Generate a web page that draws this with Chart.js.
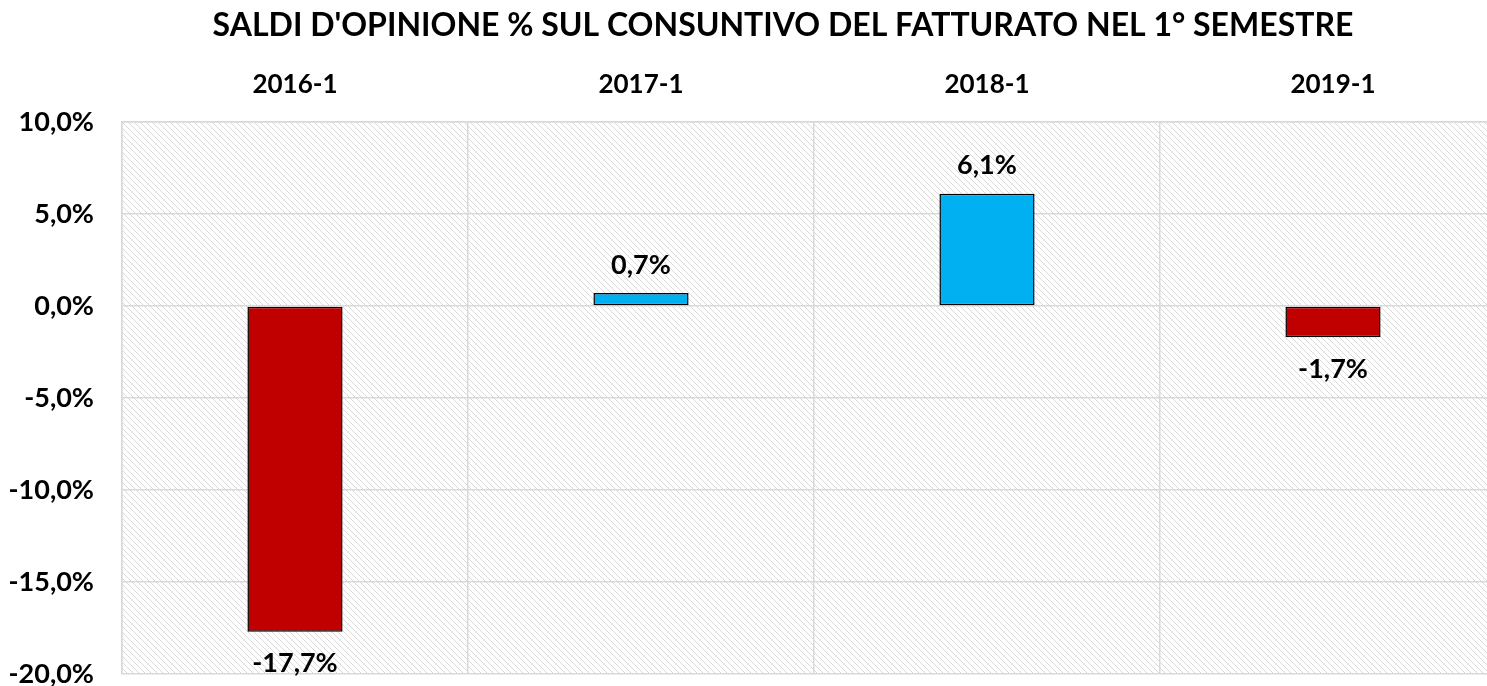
<!DOCTYPE html>
<html>
<head>
<meta charset="utf-8">
<script src="https://cdn.jsdelivr.net/npm/chart.js@4"></script>
<style>
  html, body { margin: 0; padding: 0; overflow: hidden; background: #fff; }
  #wrap { width: 1566px; height: 686px; }
</style>
</head>
<body>
<div id="wrap"><canvas id="chart" width="1566" height="686"></canvas></div>
<script>
var categories = ['2016-1', '2017-1', '2018-1', '2019-1'];
var saldi = [-17.7, 0.7, 6.1, -1.7];
var yTicks = [10, 5, 0, -5, -10, -15, -20];

var FONT = 'Lato';

function fmt(v) {
  return v.toFixed(1).replace('.', ',') + '%';
}

// hatched plot background, 1px diagonal dots like the excel pattern
function hatch(ctx) {
  var c = document.createElement('canvas');
  c.width = 6; c.height = 6;
  var p = c.getContext('2d');
  p.fillStyle = '#d9d9d9';
  for (var i = 0; i < 6; i++) p.fillRect(i, i, 1, 1);
  return ctx.createPattern(c, 'repeat');
}

var bgPlugin = {
  id: 'bg',
  beforeDraw: function (chart) {
    var a = chart.chartArea, ctx = chart.ctx;
    ctx.save();
    ctx.fillStyle = hatch(ctx);
    ctx.fillRect(a.left, a.top, a.right - a.left, a.bottom - a.top);
    ctx.restore();
  }
};

var labelPlugin = {
  id: 'valueLabels',
  afterDatasetsDraw: function (chart) {
    var ctx = chart.ctx;
    var meta = chart.getDatasetMeta(0);
    ctx.save();
    ctx.font = 'bold 27px ' + FONT;
    ctx.fillStyle = '#000';
    ctx.textAlign = 'center';
    ctx.textBaseline = 'middle';
    meta.data.forEach(function (bar, i) {
      var v = saldi[i];
      var y = v >= 0 ? bar.y - 28 : bar.y + 32;
      ctx.fillText(fmt(v), bar.x, y);
    });
    ctx.restore();
  }
};

var ctx = document.getElementById('chart').getContext('2d');
new Chart(ctx, {
  type: 'bar',
  data: {
    labels: categories,
    datasets: [{
      data: saldi,
      backgroundColor: saldi.map(v => v < 0 ? '#c00000' : '#00b0f0'),
      borderColor: '#000',
      borderWidth: 1.5,
      borderSkipped: false,
      categoryPercentage: 1,
      barPercentage: 0.275
    }]
  },
  options: {
    responsive: false,
    animation: false,
    layout: { padding: { left: 0, right: 0, top: 0, bottom: 12 } },
    plugins: {
      legend: { display: false },
      tooltip: { enabled: false },
      title: {
        display: true,
        text: "SALDI D'OPINIONE % SUL CONSUNTIVO DEL FATTURATO NEL 1° SEMESTRE",
        color: '#000',
        font: { family: FONT, size: 32, weight: 'bold', lineHeight: 1.2 },
        padding: { top: 6, bottom: 0 }
      }
    },
    scales: {
      x: {
        position: 'top',
        grid: { color: '#d9d9d9', lineWidth: 1.5, drawTicks: false, offset: true },
        border: { color: '#d9d9d9', width: 1.5 },
        ticks: { color: '#000', font: { family: FONT, size: 26, weight: 'bold' }, padding: 22 },
        afterFit: function (s) { s.height = 122 - 44.4; }
      },
      y: {
        min: -20,
        max: 10,
        afterBuildTicks: function (s) { s.ticks = yTicks.map(v => ({ value: v })); },
        grid: { color: '#d9d9d9', lineWidth: 1.5, drawTicks: false },
        border: { color: '#d9d9d9', width: 1.5 },
        ticks: {
          color: '#000',
          font: { family: FONT, size: 27, weight: 'bold' },
          padding: 28,
          callback: function (v) { return fmt(v); }
        },
        afterFit: function (s) {
          s.width = 122;
          s.paddingTop = 0;
          s.paddingBottom = 0;
        }
      },
      // empty right margin (the original chart runs past the right edge)
      yRight: {
        position: 'right',
        min: -20,
        max: 10,
        grid: { display: false },
        border: { display: false },
        ticks: { display: false },
        afterFit: function (s) {
          s.width = 60;
          s.paddingTop = 0;
          s.paddingBottom = 0;
        }
      }
    }
  },
  plugins: [bgPlugin, labelPlugin]
});
</script>
</body>
</html>
